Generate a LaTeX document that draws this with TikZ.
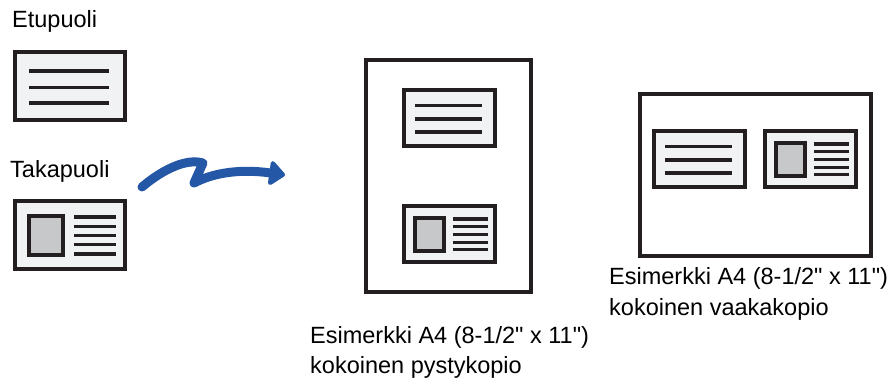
\documentclass[tikz,border=0pt]{standalone}
\usepackage{fontspec}
\setmainfont{Liberation Sans}[Ligatures=TeXOff]
\usetikzlibrary{arrows.meta}
\definecolor{ink}{HTML}{231F20}
\definecolor{cardfill}{HTML}{F1F2F4}
\definecolor{photofill}{HTML}{C7C8CA}
\definecolor{arrowblue}{HTML}{2457A6}
\tikzset{
  cardborder/.style={draw=ink, fill=cardfill, line width=4pt},
  pageborder/.style={draw=ink, fill=white, line width=4.5pt},
  photobox/.style={draw=ink, fill=photofill, line width=4pt},
  textline/.style={draw=ink, line width=3.6pt},
  textlinesmall/.style={draw=ink, line width=3.2pt},
  lbl/.style={anchor=base west, inner sep=0pt, font=\fontsize{23.5}{31}\selectfont, text=black},
  frontcard/.pic={
    \draw[cardborder] (2,2) rectangle (112,70);
    \foreach \yy in {21,37.5,53} \draw[textline] (16,\yy) -- (96,\yy);
  },
  backcard/.pic={
    \draw[cardborder] (2,2) rectangle (112,70);
    \draw[photobox] (16,17) rectangle (50,56);
    \foreach \yy in {18,27.25,36.5,45.75,55} \draw[textlinesmall] (61,\yy) -- (103,\yy);
  }
}
\begin{document}
\begin{tikzpicture}[x=1pt,y=-1pt]
\useasboundingbox (0,0) rectangle (896,383);
% left originals
\node[lbl] (etu) at (12,27) {Etupuoli};
\pic (f1) at (13,50) {frontcard};
\node[lbl] (taka) at (10,177) {Takapuoli};
\pic (b1) at (13,199) {backcard};
% arrow
\coordinate (arrS) at (142,187);
\coordinate (arrP) at (203,163);
\coordinate (arrV) at (194,183);
\coordinate (arrE) at (285,175);
\draw[arrowblue, line width=9pt, line cap=round, line join=round,
      -{Triangle[length=17pt,width=28pt,round]}]
  (arrS) .. controls (162,170) and (186,158) .. (arrP) -- (arrV)
  .. controls (215,172) and (242,169) .. (arrE);
% portrait page
\draw[pageborder] (366,60) rectangle (531,292);
\pic[scale=0.833] (f2) at (402,88) {frontcard};
\pic[scale=0.833] (b2) at (402,204) {backcard};
\node[lbl] (cap1a) at (310,343) {Esimerkki A4 (8-1/2" x 11")};
\node[lbl] (cap1b) at (310,373) {kokoinen pystykopio};
% landscape page
\draw[pageborder] (640,94) rectangle (871,256);
\pic[scale=0.833] (f3) at (652,129) {frontcard};
\pic[scale=0.833] (b3) at (763,129) {backcard};
\node[lbl] (cap2a) at (609,284) {Esimerkki A4 (8-1/2" x 11")};
\node[lbl] (cap2b) at (609,315) {kokoinen vaakakopio};
\end{tikzpicture}
\end{document}
